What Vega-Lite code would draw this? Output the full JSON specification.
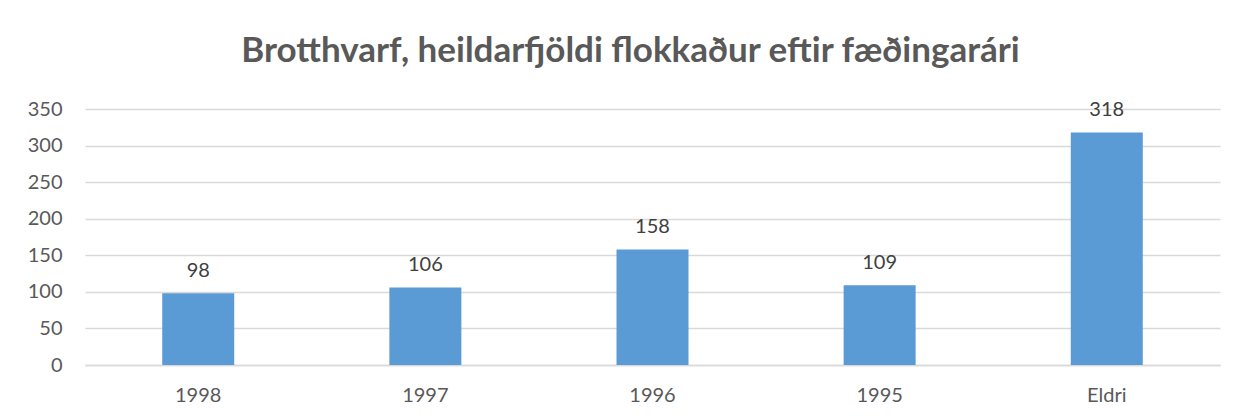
{
  "$schema": "https://vega.github.io/schema/vega-lite/v6.json",
  "width": 1135,
  "height": 256,
  "autosize": "none",
  "padding": {"left": 85, "top": 109, "right": 18, "bottom": 55},
  "background": "white",
  "title": {
    "text": "Brotthvarf, heildarfjöldi flokkaður eftir fæðingarári",
    "font": "Lato",
    "fontSize": 35,
    "fontWeight": "bold",
    "color": "#595959",
    "anchor": "middle",
    "dx": -22,
    "offset": 30
  },
  "data": {
    "values": [
      {"flokkur": "1998", "fjoldi": 98},
      {"flokkur": "1997", "fjoldi": 106},
      {"flokkur": "1996", "fjoldi": 158},
      {"flokkur": "1995", "fjoldi": 109},
      {"flokkur": "Eldri", "fjoldi": 318}
    ]
  },
  "encoding": {
    "x": {
      "field": "flokkur",
      "type": "nominal",
      "sort": null,
      "scale": {"paddingInner": 0.683, "paddingOuter": 0.34},
      "axis": {
        "title": null,
        "labelAngle": 0,
        "labelFont": "Lato",
        "labelFontSize": 20,
        "labelColor": "#595959",
        "labelPadding": 20,
        "ticks": false,
        "domainColor": "#d9d9d9",
        "domainWidth": 1.5
      }
    },
    "y": {
      "field": "fjoldi",
      "type": "quantitative",
      "scale": {"domain": [0, 350], "nice": false},
      "axis": {
        "title": null,
        "values": [0, 50, 100, 150, 200, 250, 300, 350],
        "labelFont": "Lato",
        "labelFontSize": 20,
        "labelColor": "#595959",
        "labelPadding": 23,
        "ticks": false,
        "domain": false,
        "gridColor": "#d9d9d9",
        "gridWidth": 1.5
      }
    }
  },
  "layer": [
    {"mark": {"type": "bar", "color": "#5b9bd5"}},
    {
      "mark": {"type": "text", "baseline": "bottom", "dy": -12, "font": "Lato", "fontSize": 20, "color": "#404040"},
      "encoding": {"text": {"field": "fjoldi", "type": "quantitative"}}
    }
  ],
  "config": {"view": {"stroke": null}}
}
